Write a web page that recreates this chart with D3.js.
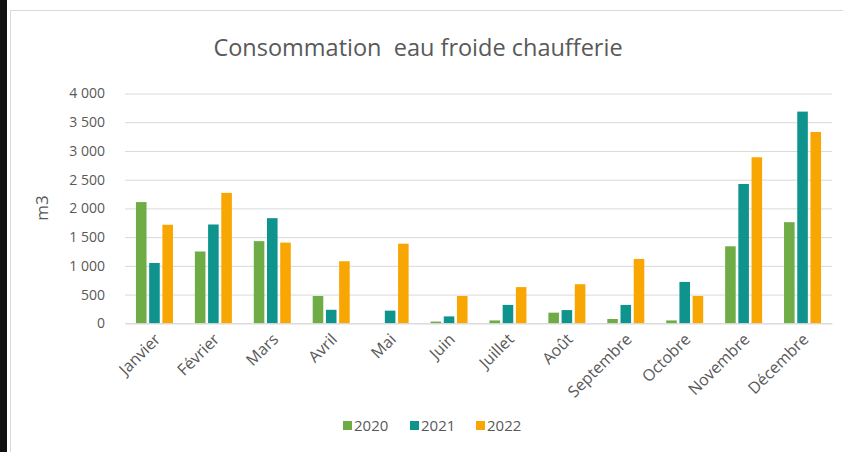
<!DOCTYPE html>
<html><head><meta charset="utf-8">
<script src="https://cdn.jsdelivr.net/npm/d3@7"></script>
<style>
html,body{margin:0;padding:0;background:#fff;}
svg{display:block;font-family:"Open Sans","Noto Sans",sans-serif;}
</style></head>
<body>
<svg id="c" width="843" height="452"></svg>
<script>
const months = ["Janvier","Février","Mars","Avril","Mai","Juin","Juillet","Août","Septembre","Octobre","Novembre","Décembre"];
const series = ["2020","2021","2022"];
const v2020 = [2110,1250,1430,475,0,30,50,185,75,50,1340,1760];
const v2021 = [1050,1720,1830,235,220,120,320,230,320,720,2425,3685];
const v2022 = [1715,2270,1405,1080,1385,475,630,680,1120,475,2890,3330];
const yTicks = [0,500,1000,1500,2000,2500,3000,3500,4000];
const colors = ["#6FAC46","#0E938D","#F8A602"];
const title = "Consommation  eau froide chaufferie";
const yLabel = "m3";

const values = [v2020, v2021, v2022];
const svg = d3.select("#c");

// frame
svg.append("rect").attr("x",0).attr("y",0).attr("width",7).attr("height",452).attr("fill","#111");
svg.append("line").attr("x1",10.5).attr("x2",10.5).attr("y1",10).attr("y2",452).attr("stroke","#d9d9d9");
svg.append("line").attr("x1",10).attr("x2",843).attr("y1",10.5).attr("y2",10.5).attr("stroke","#d9d9d9");

const pLeft = 125, pRight = 832, pTop = 93.5, pBottom = 323.3;
const x = d3.scaleBand().domain(months).range([pLeft,pRight]).paddingInner(0.372).paddingOuter(0.186);
const xs = d3.scaleBand().domain(series).range([0,x.bandwidth()]).paddingInner(0.2);
const y = d3.scaleLinear().domain([0,4000]).range([pBottom,pTop]);

const fmt = d => d3.format(",")(d).replace(/,/g," ");

// grid
const yAxis = d3.axisLeft(y).tickValues(yTicks).tickSize(-(pRight-pLeft)).tickFormat(fmt);
const ga = svg.append("g").attr("transform",`translate(${pLeft},0)`).call(yAxis);
ga.select(".domain").remove();
ga.selectAll(".tick line").attr("stroke","#d9d9d9").attr("stroke-width",1);
ga.selectAll(".tick text").attr("x",-20).attr("fill","#595959").style("font-size","14px").style("font-family","'Open Sans',sans-serif");

// bars
const g = svg.append("g");
months.forEach((m,i)=>{
  series.forEach((s,j)=>{
    const val = values[j][i];
    g.append("rect")
      .attr("x", x(m)+xs(s))
      .attr("y", y(val))
      .attr("width", xs.bandwidth())
      .attr("height", Math.max(0, y(0)-y(val)))
      .attr("fill", colors[j]);
  });
});

// x axis
const xAxis = d3.axisBottom(x).tickSize(0).tickPadding(0);
const gx = svg.append("g").attr("transform",`translate(0,${pBottom})`).call(xAxis);
gx.select(".domain").attr("stroke","#d9d9d9");
gx.selectAll(".tick text")
  .attr("fill","#595959").style("font-size","16px").style("font-family","'Open Sans',sans-serif")
  .attr("text-anchor","end")
  .attr("dy","0")
  .attr("transform","translate(7,17) rotate(-45)");

// title
svg.append("text").attr("x",418).attr("y",56).attr("text-anchor","middle")
  .style("white-space","pre")
  .attr("fill","#595959").style("font-size","23.5px").text(title);

// y label
svg.append("text").attr("transform","translate(48,208) rotate(-90)").attr("text-anchor","middle")
  .attr("fill","#595959").style("font-size","17px").text(yLabel);

// legend
const lg = svg.append("g");
const legX = [343, 410, 476];
series.forEach((s,j)=>{
  lg.append("rect").attr("x",legX[j]).attr("y",421).attr("width",9).attr("height",9).attr("fill",colors[j]);
  lg.append("text").attr("x",legX[j]+11).attr("y",431).attr("fill","#595959").style("font-size","15px").text(s);
});
</script>
</body></html>
